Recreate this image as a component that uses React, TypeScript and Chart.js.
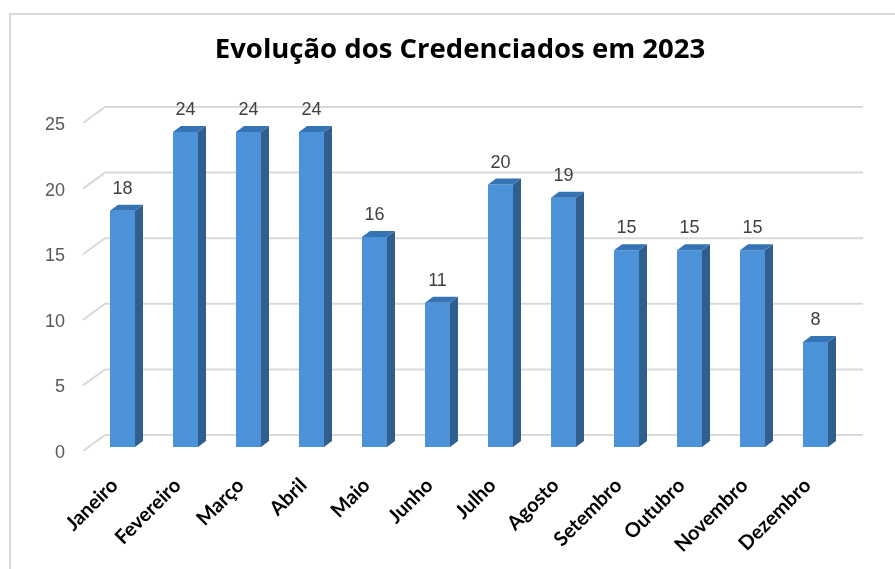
import React, { useEffect, useRef } from "react";
import { Chart, registerables } from "chart.js";

Chart.register(...registerables);

const TITLE = "Evolução dos Credenciados em 2023";
const MONTHS = [
  "Janeiro", "Fevereiro", "Março", "Abril", "Maio", "Junho",
  "Julho", "Agosto", "Setembro", "Outubro", "Novembro", "Dezembro",
];
const CREDENCIADOS = [18, 24, 24, 24, 16, 11, 20, 19, 15, 15, 15, 8];
const Y_TICKS = [0, 5, 10, 15, 20, 25];

const W = 895;
const H = 569;

const FRONT = "#4b92d8";
const SIDE = "#305f8d";
const TOP = "#3673b5";
const GRID = "#d9d9d9";

const DX = 8; // bar depth x
const DY = 6; // bar depth y

const deco = {
  id: "deco",
  beforeDraw(chart: any) {
    const ctx = chart.ctx;
    ctx.save();
    ctx.fillStyle = "#ffffff";
    ctx.fillRect(0, 0, W, H);
    // frame
    ctx.strokeStyle = GRID;
    ctx.lineWidth = 2;
    ctx.beginPath();
    ctx.moveTo(10, H + 5);
    ctx.lineTo(10, 14);
    ctx.lineTo(W + 5, 14);
    ctx.stroke();
    // title
    ctx.fillStyle = "#000000";
    ctx.font = "bold 27.5px 'Open Sans'";
    ctx.textAlign = "center";
    ctx.textBaseline = "middle";
    ctx.fillText(TITLE, 460, 50);
    ctx.restore();
  },
  beforeDatasetsDraw(chart: any) {
    const ctx = chart.ctx;
    const y = chart.scales.y;
    const area = chart.chartArea;
    ctx.save();
    ctx.strokeStyle = GRID;
    ctx.lineWidth = 2;
    for (const v of Y_TICKS) {
      const py = y.getPixelForValue(v);
      ctx.beginPath();
      ctx.moveTo(area.left - 8, py + 4);
      ctx.lineTo(area.left + 14, py - 12);
      ctx.lineTo(area.right + 16, py - 12);
      ctx.stroke();
    }
    ctx.fillStyle = "#595959";
    ctx.font = "18px 'Liberation Sans'";
    ctx.textAlign = "right";
    ctx.textBaseline = "middle";
    for (const v of Y_TICKS) {
      const py = y.getPixelForValue(v);
      ctx.fillText(String(v), 65, py + 6);
    }
    ctx.restore();
  },
  afterDatasetsDraw(chart: any) {
    const ctx = chart.ctx;
    const meta = chart.getDatasetMeta(0);
    const x = chart.scales.x;
    const yScale = chart.scales.y;
    const base = yScale.getPixelForValue(0);
    ctx.save();
    meta.data.forEach((bar: any, i: number) => {
      const props = bar.getProps(["x", "y", "width", "base"], true);
      const l = props.x - props.width / 2;
      const r = props.x + props.width / 2;
      const t = props.y;
      const b = props.base;
      // side
      ctx.fillStyle = SIDE;
      ctx.beginPath();
      ctx.moveTo(r, t);
      ctx.lineTo(r + DX, t - DY);
      ctx.lineTo(r + DX, b - DY);
      ctx.lineTo(r, b);
      ctx.closePath();
      ctx.fill();
      // top
      ctx.fillStyle = TOP;
      ctx.beginPath();
      ctx.moveTo(l, t);
      ctx.lineTo(l + DX, t - DY);
      ctx.lineTo(r + DX, t - DY);
      ctx.lineTo(r, t);
      ctx.closePath();
      ctx.fill();
      // value label
      ctx.fillStyle = "#404040";
      ctx.font = "18px 'Liberation Sans'";
      ctx.textAlign = "center";
      ctx.textBaseline = "middle";
      ctx.fillText(String(CREDENCIADOS[i]), props.x, t - 22);
    });
    // category labels
    ctx.fillStyle = "#000000";
    ctx.font = "bold 20px Lato";
    ctx.textAlign = "right";
    ctx.textBaseline = "middle";
    MONTHS.forEach((m, i) => {
      const px = x.getPixelForValue(i);
      ctx.save();
      ctx.translate(px - 8, base + 35);
      ctx.rotate(-Math.PI / 4);
      ctx.fillText(m, 0, 0);
      ctx.restore();
    });
    ctx.restore();
  },
};

export default function App() {
  const ref = useRef<HTMLCanvasElement | null>(null);
  useEffect(() => {
    if (!ref.current) return;
    const chart = new Chart(ref.current, {
      type: "bar",
      data: {
        labels: MONTHS,
        datasets: [
          {
            data: CREDENCIADOS,
            backgroundColor: FRONT,
            borderWidth: 0,
            barPercentage: 25 / 63,
            categoryPercentage: 1,
          },
        ],
      },
      options: {
        responsive: false,
        animation: false,
        devicePixelRatio: 1,
        layout: { padding: { left: 91, right: W - 847, top: 119, bottom: H - 447 } },
        plugins: { legend: { display: false }, tooltip: { enabled: false }, title: { display: false } },
        scales: {
          x: { display: false },
          y: { display: false, min: 0, max: 25 },
        },
      },
      plugins: [deco],
    });
    return () => chart.destroy();
  }, []);
  return (
    <div style={{ position: "fixed", left: 0, top: 0, width: W, height: H, background: "#fff" }}>
      <canvas ref={ref} width={W} height={H} style={{ width: W, height: H, display: "block" }} />
    </div>
  );
}
